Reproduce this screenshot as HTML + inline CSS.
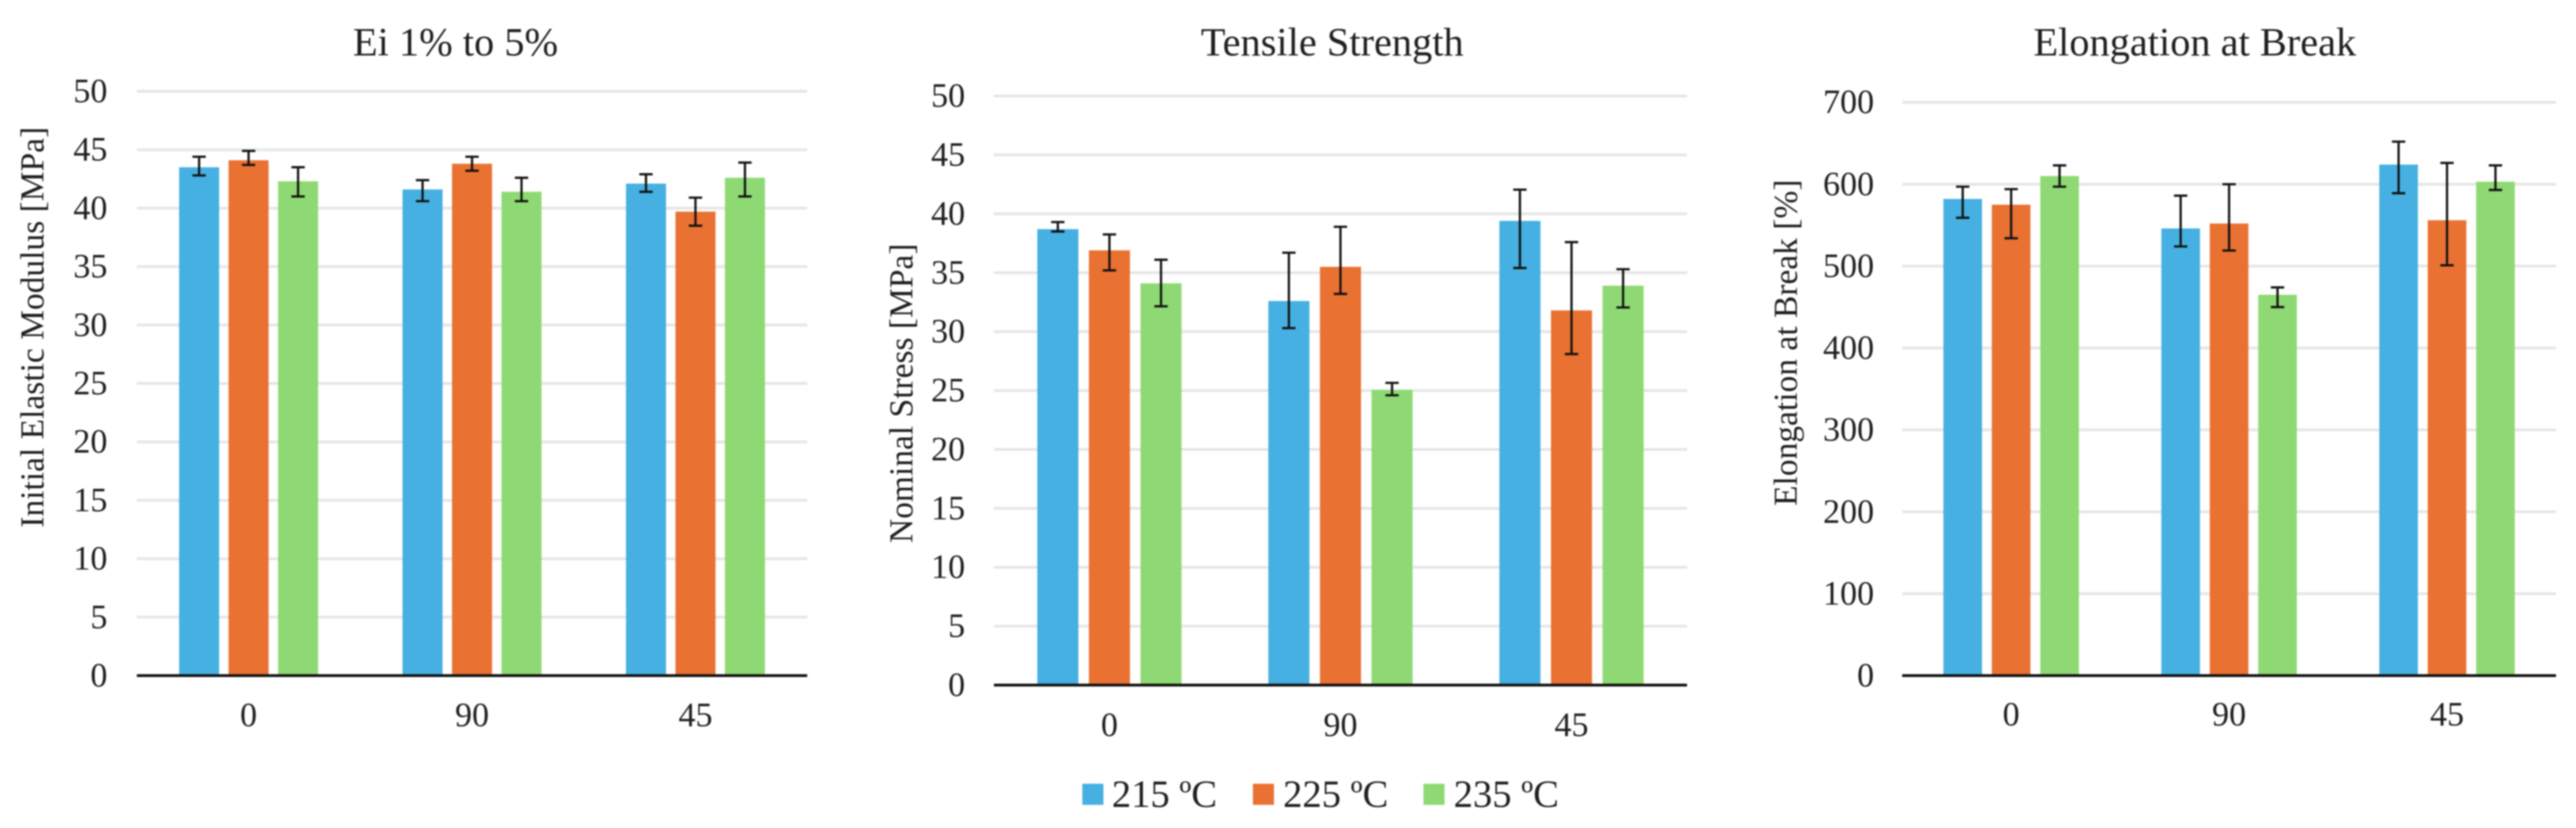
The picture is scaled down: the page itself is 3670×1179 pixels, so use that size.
<!DOCTYPE html>
<html lang="en">
<head>
<meta charset="utf-8">
<title>Ei, Tensile Strength and Elongation at Break</title>
<style>
html,body{margin:0;padding:0;background:#fff;}
body{width:3670px;height:1179px;overflow:hidden;}
svg{display:block;filter:blur(1px);font-family:"Liberation Serif",serif;fill:#1f1f1f;}
</style>
</head>
<body>
<svg id="figure" xmlns="http://www.w3.org/2000/svg" width="3670" height="1179" viewBox="0 0 3670 1179">
  <rect x="0" y="0" width="3670" height="1179" fill="#fff"/>
  <g id="chart-a"></g>
  <g id="chart-b"></g>
  <g id="chart-c"></g>
  <g>
    <g>
      <rect x="1542" y="1116" width="30" height="30" fill="#45B0E1"/>
      <text x="1584" y="1149" font-size="55">215 ºC</text>
    </g>
    <g>
      <rect x="1785" y="1116" width="30" height="30" fill="#E97132"/>
      <text x="1828" y="1149" font-size="55">225 ºC</text>
    </g>
    <g>
      <rect x="2028" y="1116" width="30" height="30" fill="#8ED973"/>
      <text x="2071" y="1149" font-size="55">235 ºC</text>
    </g>
  </g>
</svg>
<script>
var categories = ["0", "90", "45"];
var seriesColors = ["#45B0E1", "#E97132", "#8ED973"];
var seriesNames = ["215", "225", "235"];

var eiTicks = [0, 5, 10, 15, 20, 25, 30, 35, 40, 45, 50];
var ei215 = [43.5, 41.6, 42.1];
var ei225 = [44.1, 43.8, 39.7];
var ei235 = [42.3, 41.4, 42.6];
var eiUp215 = [0.9, 0.8, 0.8];
var eiUp225 = [0.8, 0.6, 1.2];
var eiUp235 = [1.2, 1.2, 1.3];
var eiDown215 = [0.7, 1.0, 0.7];
var eiDown225 = [0.4, 0.6, 1.2];
var eiDown235 = [1.3, 0.8, 1.6];

var tsTicks = [0, 5, 10, 15, 20, 25, 30, 35, 40, 45, 50];
var ts215 = [38.7, 32.6, 39.4];
var ts225 = [36.9, 35.5, 31.8];
var ts235 = [34.1, 25.05, 33.9];
var tsUp215 = [0.6, 4.1, 2.65];
var tsUp225 = [1.35, 3.4, 5.8];
var tsUp235 = [2.0, 0.6, 1.4];
var tsDown215 = [0.2, 2.3, 4.0];
var tsDown225 = [1.7, 2.3, 3.7];
var tsDown235 = [1.95, 0.45, 1.85];

var elTicks = [0, 100, 200, 300, 400, 500, 600, 700];
var el215 = [582, 546, 624];
var el225 = [575, 552, 556];
var el235 = [610, 465, 603];
var elUp215 = [15, 40, 28];
var elUp225 = [19, 48, 70];
var elUp235 = [13, 9, 20];
var elDown215 = [23, 22, 35];
var elDown225 = [41, 33, 55];
var elDown235 = [13, 15, 10];

var NS = "http://www.w3.org/2000/svg";

function make(parent, tag, attrs, text) {
  var el = document.createElementNS(NS, tag);
  for (var k in attrs) el.setAttribute(k, attrs[k]);
  if (text !== undefined) el.textContent = text;
  parent.appendChild(el);
  return el;
}

function drawChart(rootId, slug, opt, ticks, values, ups, downs) {
  var root = document.getElementById(rootId);
  var maxTick = ticks[ticks.length - 1];
  var yOf = function (v) { return opt.y0 - (opt.y0 - opt.yTop) * v / maxTick; };
  var band = (opt.right - opt.left) / categories.length;
  var xCenter = function (i) { return opt.left + band * (i + 0.5); };
  var xBar = function (i, s) { return xCenter(i) + (s - 1) * opt.spacing - opt.barWidth / 2; };

  var title = make(root, "text", { x: opt.titleX, y: opt.titleY, "font-size": 57.5, "text-anchor": "middle" }, opt.title);
  
  

  var axisTitle = make(root, "text", {
    transform: "translate(" + opt.axisTitleX + "," + opt.axisTitleY + ") rotate(-90)",
    "font-size": 47.7, "text-anchor": "middle"
  }, opt.axisTitle);
  
  

  ticks.forEach(function (t) {
    if (t !== 0) {
      var grid = make(root, "line", { x1: opt.left, x2: opt.right, y1: yOf(t), y2: yOf(t), stroke: "#E6E6E6", "stroke-width": 4 });
      
      
    }
    var label = make(root, "text", { x: opt.tickRight, y: yOf(t) + 15.5, "font-size": 48.5, "text-anchor": "end" }, String(t));
    
    
  });

  values.forEach(function (series, s) {
    series.forEach(function (v, i) {
      var bar = make(root, "rect", {
        x: xBar(i, s), y: yOf(v), width: opt.barWidth, height: opt.y0 - yOf(v), fill: seriesColors[s]
      });
      
      
    });
  });

  var axis = make(root, "line", { x1: opt.left, x2: opt.right, y1: opt.y0, y2: opt.y0, stroke: "#111", "stroke-width": 4 });
  
  

  values.forEach(function (series, s) {
    series.forEach(function (v, i) {
      var cx = xBar(i, s) + opt.barWidth / 2;
      var top = yOf(v + ups[s][i]);
      var bottom = yOf(v - downs[s][i]);
      var path = "M" + cx + " " + top + "V" + bottom +
        "M" + (cx - 9.5) + " " + top + "H" + (cx + 9.5) +
        "M" + (cx - 9.5) + " " + bottom + "H" + (cx + 9.5);
      var err = make(root, "path", { d: path, fill: "none", stroke: "#111", "stroke-width": 3.2 });
      
      
    });
  });

  categories.forEach(function (c, i) {
    var label = make(root, "text", { x: xCenter(i), y: opt.catY, "font-size": 48.5, "text-anchor": "middle" }, c);
    
    
  });
}

drawChart("chart-a", "ei",
  { left: 195, right: 1150, y0: 962, yTop: 130, barWidth: 57, spacing: 70.5, tickRight: 153,
    title: "Ei 1% to 5%", titleX: 649, titleY: 79,
    axisTitle: "Initial Elastic Modulus [MPa]", axisTitleX: 62, axisTitleY: 466, catY: 1034 },
  eiTicks, [ei215, ei225, ei235], [eiUp215, eiUp225, eiUp235], [eiDown215, eiDown225, eiDown235]);

drawChart("chart-b", "tensile",
  { left: 1416, right: 2403.5, y0: 975.5, yTop: 136.7, barWidth: 58.5, spacing: 73.5, tickRight: 1375,
    title: "Tensile Strength", titleX: 1898, titleY: 79,
    axisTitle: "Nominal Stress [MPa]", axisTitleX: 1300, axisTitleY: 560, catY: 1048 },
  tsTicks, [ts215, ts225, ts235], [tsUp215, tsUp225, tsUp235], [tsDown215, tsDown225, tsDown235]);

drawChart("chart-c", "elongation",
  { left: 2710, right: 3641.5, y0: 962, yTop: 145.7, barWidth: 55, spacing: 69, tickRight: 2670,
    title: "Elongation at Break", titleX: 3127, titleY: 79,
    axisTitle: "Elongation at Break [%]", axisTitleX: 2560, axisTitleY: 488, catY: 1033 },
  elTicks, [el215, el225, el235], [elUp215, elUp225, elUp235], [elDown215, elDown225, elDown235]);
</script>
</body>
</html>
